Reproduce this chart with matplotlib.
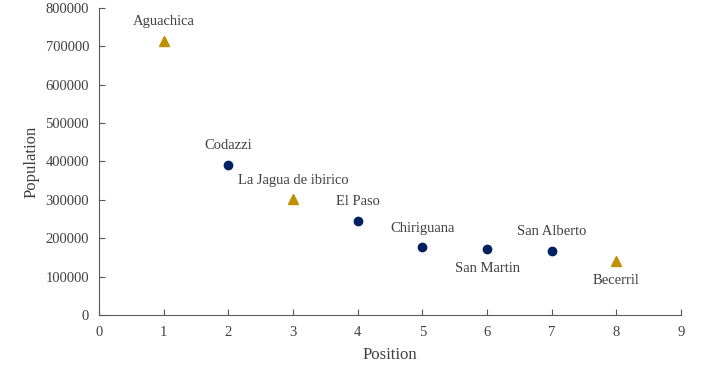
import matplotlib.pyplot as plt

plt.rcParams['font.family'] = ['Liberation Serif', 'DejaVu Serif']

# Data
towns = ["Aguachica", "Codazzi", "La Jagua de ibirico", "El Paso", "Chiriguana",
         "San Martin", "San Alberto", "Becerril"]
position = [1, 2, 3, 4, 5, 6, 7, 8]
population = [713000, 391000, 301000, 245000, 176000, 172000, 167000, 141000]
kind = ["tri", "dot", "tri", "dot", "dot", "dot", "dot", "tri"]
label_side = ["above", "above", "above", "above", "above", "below", "above", "below"]

navy = "#002060"
gold = "#BF9000"
grey = "#595959"
text_col = "#404040"

fig = plt.figure(figsize=(7.11, 3.77), dpi=100)
ax = fig.add_axes([0.139, 0.1645, 0.819, 0.8143])

for x, y, k in zip(position, population, kind):
    if k == "tri":
        ax.plot(x, y, marker="^", color=gold, markersize=6.5, linestyle="none")
    else:
        ax.plot(x, y, marker="o", color=navy, markersize=6, linestyle="none")

for name, x, y, side in zip(towns, position, population, label_side):
    dy = 14 if side == "above" else -14
    ax.annotate(name, (x, y), xytext=(0, dy), textcoords="offset points",
                ha="center", va="center", fontsize=10.5, color=text_col)

ax.set_xlim(0, 9)
ax.set_ylim(0, 800000)
ax.set_xticks(range(0, 10))
ax.set_yticks(range(0, 800001, 100000))
ax.tick_params(direction="in", length=4, color=grey, labelcolor=text_col, labelsize=10.5)
ax.tick_params(axis="x", pad=8)
ax.tick_params(axis="y", pad=7)

for s in ["top", "right"]:
    ax.spines[s].set_visible(False)
for s in ["left", "bottom"]:
    ax.spines[s].set_color(grey)

ax.set_xlabel("Position", fontsize=12, color=text_col, labelpad=6)
ax.set_ylabel("Population", fontsize=12, color=text_col, labelpad=4)

fig.savefig("out.png", dpi=100)
